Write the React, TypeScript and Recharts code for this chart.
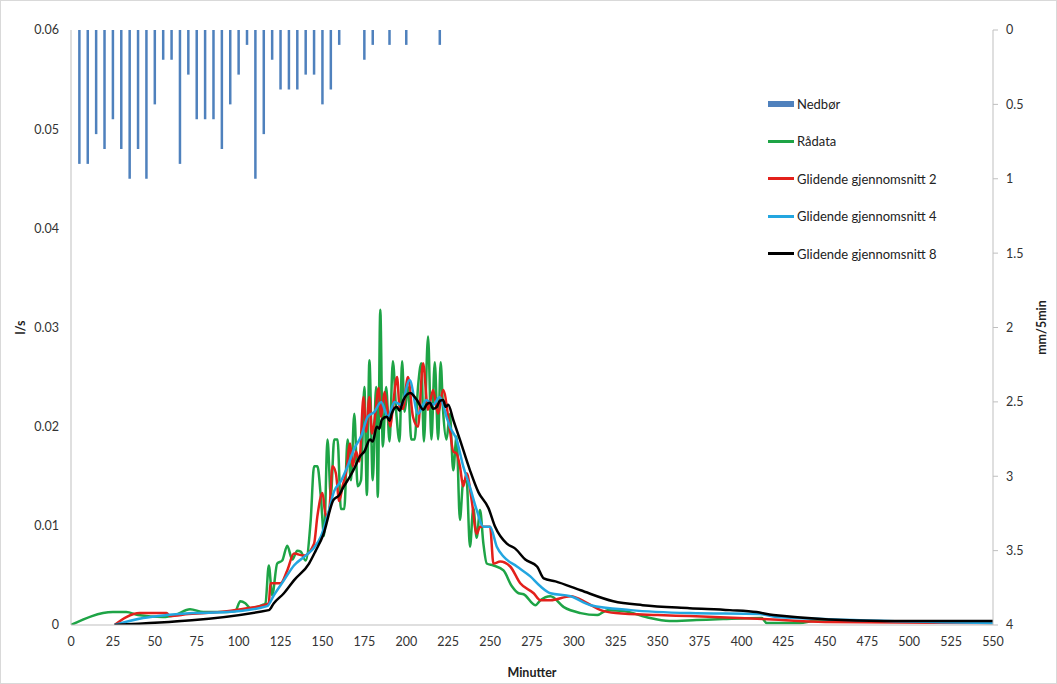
import { ComposedChart, Bar, Line, XAxis, YAxis, Label } from 'recharts';

// nedbør mm/5min, every 5 minutes
const rainMinutes = [5, 10, 15, 20, 25, 30, 35, 40, 45, 50, 55, 60, 65, 70, 75, 80, 85, 90, 95, 100, 105, 110, 115, 120, 125, 130, 135, 140, 145, 150, 155, 160, 175, 180, 190, 200, 220];
const rainValues = [0.9, 0.9, 0.7, 0.8, 0.6, 0.8, 1.0, 0.8, 1.0, 0.5, 0.2, 0.2, 0.9, 0.3, 0.6, 0.6, 0.6, 0.8, 0.5, 0.3, 0.1, 1.0, 0.7, 0.2, 0.4, 0.4, 0.4, 0.3, 0.3, 0.5, 0.4, 0.1, 0.2, 0.1, 0.1, 0.1, 0.1];

// [minutt, l/s]
const raadata = [
  [0, 0], [25, 0.0013], [33, 0.0013], [40, 0.001], [55, 0.0008], [62, 0.001], [71, 0.0016], [79, 0.0013], [93, 0.0013],
  [98, 0.0014], [101, 0.0024], [104, 0.0022], [107, 0.0017], [114, 0.002], [116, 0.0022], [118, 0.006], [120, 0.003],
  [123, 0.0062], [126, 0.0065], [129, 0.008], [132, 0.0066], [135, 0.0075], [137, 0.0074], [140, 0.0065], [143, 0.0106],
  [145, 0.016], [147, 0.016], [149, 0.013], [151, 0.009], [153, 0.0187], [155, 0.013], [157, 0.0187], [159, 0.0187],
  [161, 0.0117], [163, 0.0117], [165, 0.0187], [167, 0.0146], [169, 0.0213], [171, 0.014], [173, 0.0146], [175, 0.024],
  [176.5, 0.0131], [178, 0.0267], [180, 0.0146], [182, 0.024], [183, 0.0129], [184.5, 0.0318], [186, 0.018], [188, 0.024],
  [190, 0.0185], [192, 0.0266], [194, 0.0215], [196, 0.0185], [197.5, 0.0266], [199, 0.0215], [201, 0.024], [203, 0.0187],
  [205, 0.0187], [207, 0.024], [209, 0.0264], [210.5, 0.0185], [213, 0.0291], [215, 0.0187], [217, 0.0265], [219, 0.0187],
  [220.5, 0.0265], [222, 0.0215], [224, 0.0187], [226, 0.0213], [228, 0.0156], [230, 0.019], [232, 0.0106], [234, 0.0145],
  [236, 0.0145], [238, 0.0079], [240, 0.0118], [242, 0.0088], [244, 0.0116], [246, 0.0082], [248, 0.0062], [252, 0.006],
  [258, 0.0055], [263, 0.0039], [267, 0.0032], [270, 0.0031], [277, 0.002], [280, 0.0025], [286, 0.0029], [294, 0.0018],
  [304, 0.0012], [314, 0.001], [320, 0.0015], [330, 0.0014], [343, 0.0008], [357, 0.0004], [373, 0.0005], [389, 0.0006],
  [412, 0.0007], [415, 0.0002], [435, 0.0002], [443, 0.0004], [550, 0.0002],
];

const glidende2 = [
  [26, 0], [33, 0.0008], [41, 0.0012], [57, 0.0012], [59, 0.0009], [70, 0.0011], [80, 0.0012], [93, 0.0014], [105, 0.0017],
  [115, 0.002], [118, 0.0022], [119, 0.0042], [125, 0.0042], [129, 0.0055], [133, 0.0072], [139, 0.007], [145, 0.0082],
  [147, 0.011], [150, 0.0133], [152, 0.011], [154, 0.0115], [156, 0.016], [158, 0.0153], [160, 0.0125], [162, 0.014],
  [164, 0.0153], [166.5, 0.0183], [168, 0.016], [170, 0.0175], [172, 0.0165], [174.5, 0.023], [176, 0.0195], [178, 0.023],
  [179.5, 0.0193], [181, 0.0205], [183.5, 0.0239], [185, 0.021], [187, 0.0235], [188.5, 0.022], [190.5, 0.02], [192, 0.022],
  [194.5, 0.025], [196, 0.022], [198, 0.0218], [201, 0.025], [204, 0.021], [207, 0.02], [210, 0.0264], [213, 0.0217],
  [216, 0.0237], [219, 0.0213], [222, 0.0237], [226, 0.0197], [228, 0.0175], [230, 0.0173], [232, 0.016], [234, 0.014],
  [236, 0.0153], [239, 0.0126], [242, 0.0092], [244, 0.0099], [246, 0.0099], [250, 0.0099], [252, 0.0062], [256, 0.0064],
  [262, 0.0059], [268, 0.0042], [276, 0.0032], [280, 0.0025], [286, 0.0025], [298, 0.0029], [308, 0.0022], [316, 0.0015],
  [325, 0.0012], [350, 0.001], [369, 0.0009], [413, 0.0006], [450, 0.0003], [550, 0.0002],
];

const glidende4 = [
  [26, 0], [43, 0.0007], [57, 0.001], [73, 0.0012], [93, 0.0013], [117, 0.0019], [121, 0.003], [127, 0.0045], [133, 0.006],
  [140, 0.007], [145, 0.0078], [149, 0.0089], [153, 0.011], [157, 0.0135], [161, 0.0145], [165, 0.016], [169, 0.0178],
  [173, 0.019], [177, 0.021], [181, 0.0215], [185, 0.0225], [189, 0.021], [193, 0.0225], [197, 0.0222], [202, 0.0247],
  [207, 0.0213], [212, 0.0227], [216, 0.0222], [220, 0.023], [224, 0.021], [226, 0.02], [230, 0.0187], [234, 0.016],
  [238, 0.0139], [242, 0.0116], [246, 0.0099], [250, 0.0099], [254, 0.0079], [258, 0.0069], [266, 0.0059], [274, 0.0049],
  [280, 0.0039], [286, 0.0032], [298, 0.0029], [310, 0.002], [334, 0.0015], [369, 0.0012], [411, 0.0011], [421, 0.0008],
  [550, 0.0002],
];

const glidende8 = [
  [26, 0], [118, 0.0015], [121, 0.0022], [127, 0.0032], [133, 0.0045], [142, 0.0062], [146, 0.0075], [150.5, 0.0091],
  [156.5, 0.0126], [160, 0.0131], [162.5, 0.0139], [166.5, 0.015], [169, 0.0158], [172.4, 0.017], [175, 0.0175], [178.4, 0.0187],
  [180, 0.0185], [182.4, 0.02], [184, 0.0198], [185.4, 0.0207], [188.4, 0.021], [190, 0.0206], [191.3, 0.0213], [194.3, 0.022],
  [196, 0.0216], [198.3, 0.0227], [202.3, 0.0234], [206.3, 0.0227], [210.2, 0.0217], [212, 0.0222], [214.2, 0.0224],
  [216, 0.0218], [218.2, 0.022], [220, 0.0226], [222, 0.0227], [223.5, 0.022], [225, 0.0222], [228, 0.0207], [232, 0.0187],
  [238, 0.0156], [243, 0.0134], [249, 0.0118], [253, 0.0099], [260, 0.0082], [265, 0.0077], [271, 0.0066], [278, 0.0059],
  [282, 0.0047], [289, 0.0044], [304, 0.0035], [323.5, 0.0024], [341, 0.002], [369, 0.0017], [393, 0.0015], [409, 0.0013],
  [419, 0.001], [485, 0.0004], [550, 0.0004],
];

const xTicks = [0, 25, 50, 75, 100, 125, 150, 175, 200, 225, 250, 275, 300, 325, 350, 375, 400, 425, 450, 475, 500, 525, 550];
const leftTicks = [0, 0.01, 0.02, 0.03, 0.04, 0.05, 0.06];
const rightTicks = [0, 0.5, 1, 1.5, 2, 2.5, 3, 3.5, 4];

const rainData = rainMinutes.map((t, i) => ({ t, nedbor: rainValues[i] }));
const toPoints = (arr: number[][]) => arr.map(([t, v]) => ({ t, v }));

const series = [
  { name: 'Rådata', data: toPoints(raadata), color: '#1EA446' },
  { name: 'Glidende gjennomsnitt 2', data: toPoints(glidende2), color: '#E3201B' },
  { name: 'Glidende gjennomsnitt 4', data: toPoints(glidende4), color: '#23A6E0' },
  { name: 'Glidende gjennomsnitt 8', data: toPoints(glidende8), color: '#000000' },
];

const font = 'Lato, "Open Sans", sans-serif';

// thin hanging rain bar, centred on its minute (height is negative on the reversed axis)
const RainBar = (props: any) => {
  const { x, y, width, height } = props;
  if (!height || isNaN(x) || isNaN(y)) return null;
  const cx = x + (width || 0) / 2;
  const top = Math.min(y, y + height);
  return <rect x={cx - 1.25} y={top} width={2.5} height={Math.abs(height)} fill="#4F81BD" />;
};

// legend drawn as an overlay so it does not shrink the plot
const LegendBox = () => (
  <div style={{ position: 'absolute', left: 767, top: 84, fontFamily: font, fontSize: 13, color: '#222' }}>
    <div style={{ display: 'flex', alignItems: 'center', height: 37.5 }}>
      <span style={{ display: 'inline-block', width: 26, height: 6, background: '#4F81BD', marginRight: 3 }} />
      Nedbør
    </div>
    {series.map((s) => (
      <div key={s.name} style={{ display: 'flex', alignItems: 'center', height: 37.5 }}>
        <span style={{ display: 'inline-block', width: 26, height: 3, background: s.color, marginRight: 3 }} />
        {s.name}
      </div>
    ))}
  </div>
);

export default function App() {
  const axisStroke = '#BFBFBF';
  const tickStyle = { fill: '#333', fontSize: 12.5, fontFamily: font };
  return (
    <div
      style={{
        position: 'absolute',
        left: 0,
        top: 0,
        width: 1055,
        height: 682,
        border: '1px solid #D9D9D9',
        background: '#fff',
      }}
    >
      <ComposedChart
        width={1055}
        height={682}
        data={rainData}
        margin={{ top: 29, right: 0, bottom: 0, left: 0 }}
      >
        <XAxis
          dataKey="t"
          type="number"
          domain={[0, 550]}
          ticks={xTicks}
          interval={0}
          allowDataOverflow
          stroke={axisStroke}
          tickLine={false}
          tick={tickStyle}
          tickMargin={6}
          height={58}
        >
          <Label
            value="Minutter"
            position="insideBottom"
            offset={6}
            style={{ fontFamily: font, fontWeight: 700, fontSize: 12.5, fill: '#222' }}
          />
        </XAxis>
        <YAxis
          yAxisId="left"
          domain={[0, 0.06]}
          ticks={leftTicks}
          interval={0}
          allowDataOverflow
          stroke={axisStroke}
          tickLine={false}
          tick={tickStyle}
          tickMargin={6}
          width={70}
          tickFormatter={(v: number) => (v === 0 ? '0' : String(v))}
        >
          <Label
            value="l/s"
            angle={-90}
            position="insideLeft"
            offset={20}
            style={{ fontFamily: font, fontWeight: 700, fontSize: 12.5, fill: '#222', textAnchor: 'middle' }}
          />
        </YAxis>
        <YAxis
          yAxisId="right"
          orientation="right"
          reversed
          domain={[0, 4]}
          ticks={rightTicks}
          interval={0}
          allowDataOverflow
          stroke={axisStroke}
          tickLine={{ stroke: axisStroke }}
          tickSize={5}
          tick={tickStyle}
          tickMargin={8}
          width={63}
        >
          <Label
            value="mm/5min"
            angle={-90}
            position="insideRight"
            offset={14}
            style={{ fontFamily: font, fontWeight: 700, fontSize: 12.5, fill: '#222', textAnchor: 'middle' }}
          />
        </YAxis>
        <Bar
          yAxisId="right"
          dataKey="nedbor"
          name="Nedbør"
          fill="#4F81BD"
          barSize={3}
          shape={RainBar}
          isAnimationActive={false}
        />
        {series.map((s) => (
          <Line
            key={s.name}
            yAxisId="left"
            data={s.data}
            dataKey="v"
            name={s.name}
            type="monotone"
            stroke={s.color}
            strokeWidth={2.5}
            dot={false}
            activeDot={false}
            isAnimationActive={false}
          />
        ))}
      </ComposedChart>
      <LegendBox />
    </div>
  );
}
